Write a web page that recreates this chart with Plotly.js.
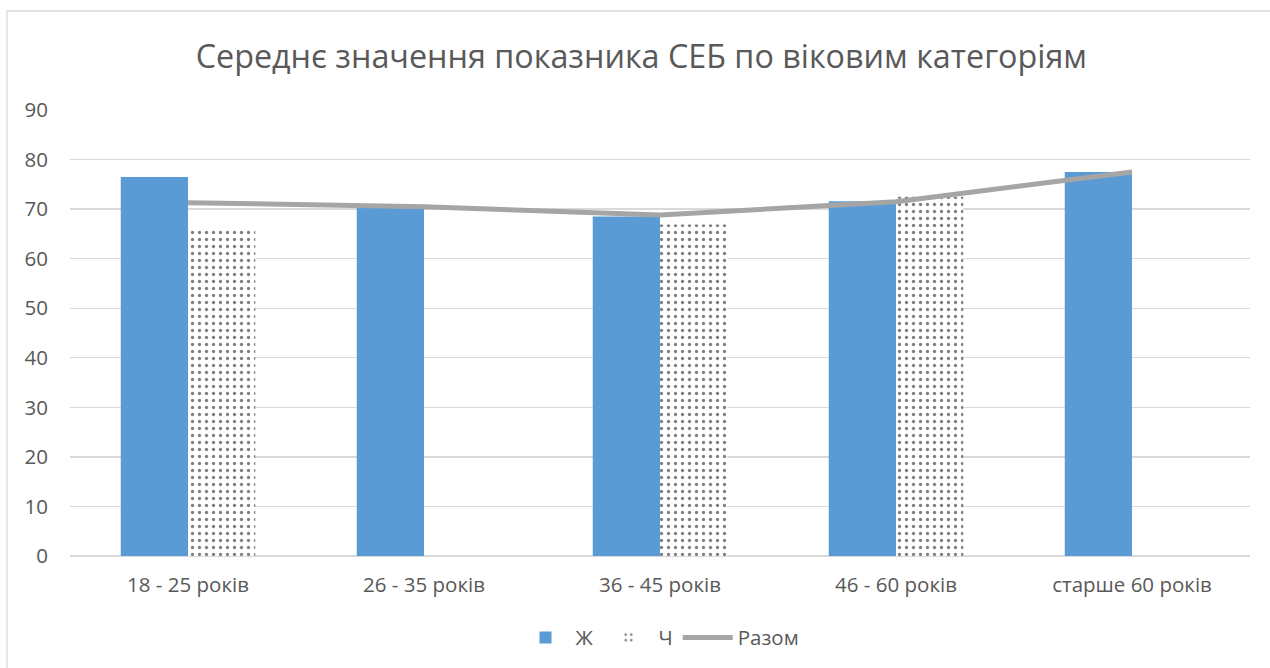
<!DOCTYPE html>
<html>
<head>
<meta charset="utf-8">
<script src="https://cdn.plot.ly/plotly-3.0.1.min.js"></script>
<style>
html,body{margin:0;padding:0;background:#fff;}
#chart{width:1270px;height:668px;}
</style>
</head>
<body>
<div id="chart"></div>
<script>
const categories = ["18 - 25 років", "26 - 35 років", "36 - 45 років", "46 - 60 років", "старше 60 років"];
const women = [76.5, 70.3, 68.5, 71.6, 77.5];
const men = [66.1, null, 66.9, 72.5, null];
const total = [71.3, 70.5, 68.8, 71.5, 77.5];
const seriesNames = ["Ж", "Ч", "Разом"];
const titleText = "Середнє значення показника СЕБ по віковим категоріям";
const yTicks = [0, 10, 20, 30, 40, 50, 60, 70, 80, 90];

const fontFamily = "'Open Sans', 'Noto Sans', sans-serif";
const grey = "#595959";

const traces = [
  {
    type: "bar", name: seriesNames[0], x: categories, y: women,
    marker: {color: "#5b9bd5"}, hoverinfo: "skip"
  },
  {
    type: "bar", name: seriesNames[1], x: categories, y: men,
    marker: {color: "#ffffff", pattern: {shape: ".", fgcolor: "#000000", bgcolor: "#ffffff", size: 7, solidity: 0.17, fillmode: "overlay"}},
    hoverinfo: "skip"
  },
  {
    type: "scatter", mode: "lines", name: seriesNames[2], x: categories, y: total,
    line: {color: "#a5a5a5", width: 5}, hoverinfo: "skip"
  }
];

const layout = {
  width: 1270, height: 668,
  margin: {l: 70, r: 20, t: 110, b: 112, autoexpand: false},
  paper_bgcolor: "#ffffff", plot_bgcolor: "#ffffff",
  title: {text: titleText, font: {family: fontFamily, size: 32.3, color: grey}, x: 0.505, xanchor: "center", y: 0.915, yanchor: "middle"},
  barmode: "group", bargap: 0.43, bargroupgap: 0,
  xaxis: {
    type: "category", tickfont: {family: fontFamily, size: 20.5, color: grey},
    showgrid: false, zeroline: false, showline: false, ticks: "", automargin: false, ticklabelstandoff: 14
  },
  yaxis: {
    range: [0, 90], tickvals: yTicks, tickfont: {family: fontFamily, size: 20.5, color: grey},
    showgrid: true, gridcolor: "#d9d9d9", gridwidth: 1.3, zeroline: true, zerolinecolor: "#d9d9d9", zerolinewidth: 1.3,
    showline: false, ticks: "", ticklen: 0, automargin: false, fixedrange: true, ticklabelstandoff: 21
  },
  legend: {
    orientation: "h", x: 0.5, xanchor: "center", y: -0.183, yanchor: "middle",
    font: {family: fontFamily, size: 20.5, color: grey}, traceorder: "normal", itemwidth: 50
  },
  shapes: [
    {type: "rect", xref: "paper", yref: "paper", x0: -0.0534, x1: 1.2, y0: -0.6, y1: 1.222,
     line: {color: "#d9d9d9", width: 1.3}, fillcolor: "rgba(0,0,0,0)", layer: "below"}
  ],
  showlegend: true
};

Plotly.newPlot("chart", traces, layout, {staticPlot: true, displayModeBar: false});
</script>
</body>
</html>
